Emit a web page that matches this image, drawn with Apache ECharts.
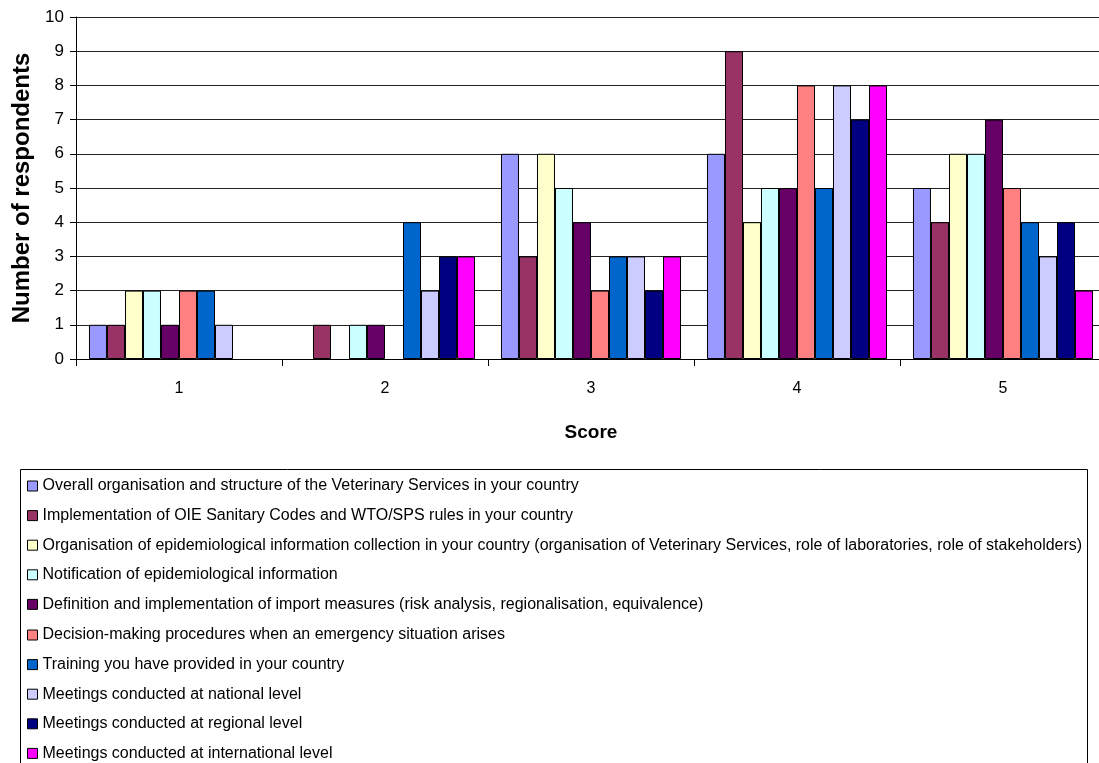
<!DOCTYPE html>
<html>
<head>
<meta charset="utf-8">
<script src="https://cdn.jsdelivr.net/npm/echarts@6/dist/echarts.min.js"></script>
<style>
html,body{margin:0;padding:0;background:#fff;}
#chart{width:1099px;height:763px;}
</style>
</head>
<body>
<div id="chart"></div>
<script>
const categories = ['1', '2', '3', '4', '5'];
const seriesNames = [
  'Overall organisation and structure of the Veterinary Services in your country',
  'Implementation of OIE Sanitary Codes and WTO/SPS rules in your country',
  'Organisation of epidemiological information collection in your country (organisation of Veterinary Services, role of laboratories, role of stakeholders)',
  'Notification of epidemiological information',
  'Definition and implementation of import measures (risk analysis, regionalisation, equivalence)',
  'Decision-making procedures when an emergency situation arises',
  'Training you have provided in your country',
  'Meetings conducted at national level',
  'Meetings conducted at regional level',
  'Meetings conducted at international level'
];
const overallOrganisation = [1, 0, 6, 6, 5];
const oieCodes = [1, 1, 3, 9, 4];
const epiCollection = [2, 0, 6, 4, 6];
const epiNotification = [2, 1, 5, 5, 6];
const importMeasures = [1, 1, 4, 5, 7];
const emergencyProcedures = [2, 0, 2, 8, 5];
const training = [2, 4, 3, 5, 4];
const nationalMeetings = [1, 2, 3, 8, 3];
const regionalMeetings = [0, 3, 2, 7, 4];
const internationalMeetings = [0, 3, 3, 8, 2];
const seriesValues = [overallOrganisation, oieCodes, epiCollection, epiNotification, importMeasures,
  emergencyProcedures, training, nationalMeetings, regionalMeetings, internationalMeetings];
const colors = ['#9999FF', '#993366', '#FFFFCC', '#CCFFFF', '#660066', '#FF8080', '#0066CC', '#CCCCFF', '#000080', '#FF00FF'];
const yTicks = [0, 10, 1];

const chart = echarts.init(document.getElementById('chart'));
const font = '"Liberation Sans", Arial, sans-serif';
const rowStep = 29.8;
function makeLegend(names, top) {
  return {
    orient: 'vertical', left: 27, top: top, padding: 0,
    icon: 'rect', itemWidth: 10, itemHeight: 10, itemGap: 13.6,
    itemStyle: { borderColor: '#000', borderWidth: 1 },
    textStyle: { fontFamily: font, fontSize: 16, color: '#000', lineHeight: 14 },
    data: names
  };
}
chart.setOption({
  animation: false,
  color: colors,
  textStyle: { fontFamily: font, color: '#000' },
  grid: { left: 76, top: 17, width: 1030, height: 342, containLabel: false, outerBoundsMode: 'none' },
  graphic: [{
    type: 'rect', z: -1,
    shape: { x: 20.5, y: 469.5, width: 1067, height: 320 },
    style: { fill: 'none', stroke: '#000', lineWidth: 1 }
  }],
  legend: [
    makeLegend(seriesNames.slice(0, 5), 478),
    makeLegend(seriesNames.slice(5), 478 + 5 * rowStep)
  ],
  xAxis: {
    type: 'category', data: categories,
    name: 'Score', nameLocation: 'middle', nameGap: 64,
    nameTextStyle: { fontSize: 19, fontWeight: 'bold', color: '#000', fontFamily: font },
    axisLine: { lineStyle: { color: '#000', width: 1 } },
    axisTick: { show: true, length: 7, lineStyle: { color: '#000' } },
    axisLabel: { fontSize: 16, color: '#000', margin: 22, fontFamily: font }
  },
  yAxis: {
    type: 'value', min: yTicks[0], max: yTicks[1], interval: yTicks[2],
    name: 'Number of respondents', nameLocation: 'middle', nameGap: 42, nameRotate: 90,
    nameTextStyle: { fontSize: 24, fontWeight: 'bold', color: '#000', fontFamily: font },
    axisLine: { show: true, lineStyle: { color: '#000', width: 1 } },
    axisTick: { show: true, length: 6, lineStyle: { color: '#000' } },
    axisLabel: { fontSize: 17, color: '#000', margin: 12, fontFamily: font },
    splitLine: { lineStyle: { color: '#222', width: 1 } }
  },
  series: seriesValues.map((vals, i) => ({
    name: seriesNames[i], type: 'bar',
    data: vals.map(v => v === 0 ? { value: v, itemStyle: { borderWidth: 0 } } : v),
    barGap: '0%', barCategoryGap: '12.6%',
    itemStyle: { color: colors[i], borderColor: '#000', borderWidth: 1 }
  }))
});
</script>
</body>
</html>
